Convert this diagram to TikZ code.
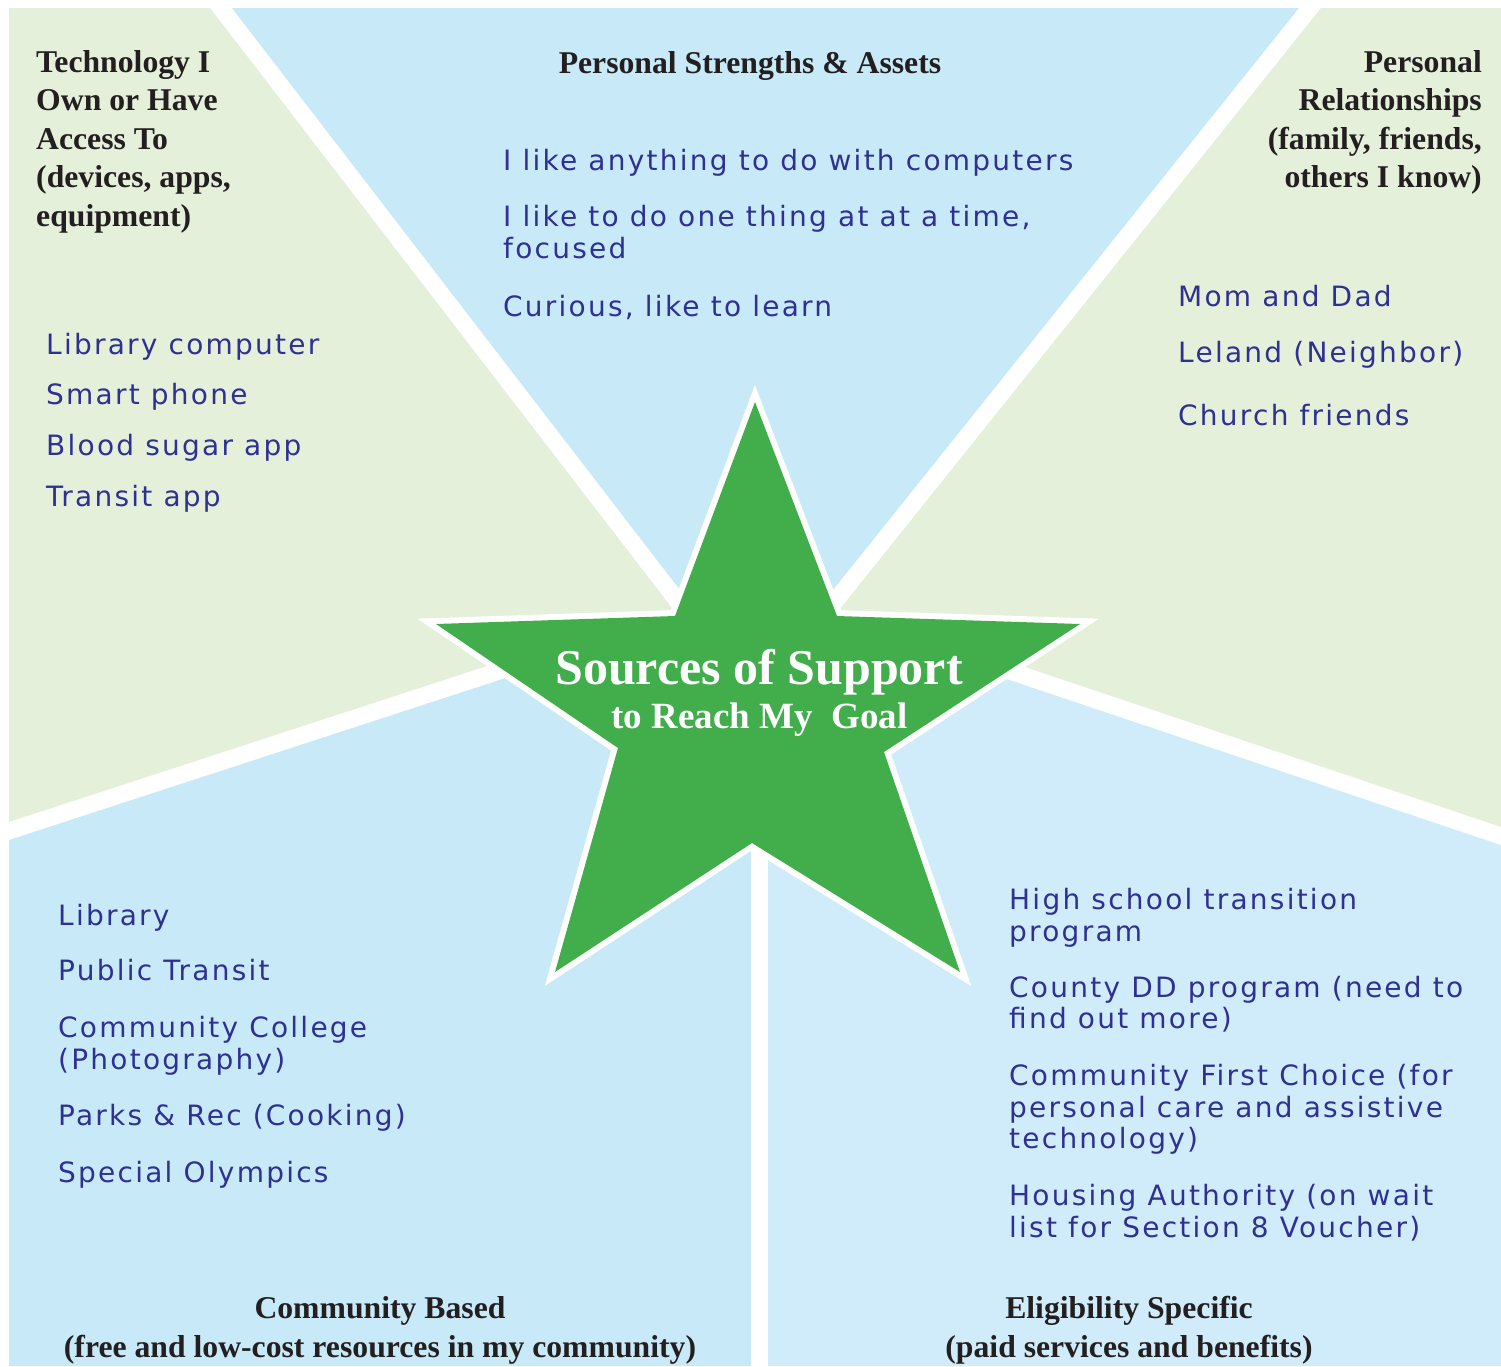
\documentclass[tikz,border=0pt]{standalone}
\usepackage{fontspec}
\setmainfont{Liberation Serif}
\newfontfamily\handfont[LetterSpace=8]{DejaVu Sans}
\usepackage[HTML]{xcolor}
\usetikzlibrary{positioning}

\definecolor{techgreen}{HTML}{E5F0DB}
\definecolor{skyblue}{HTML}{C8EAF8}
\definecolor{paleblue}{HTML}{D0ECFA}
\definecolor{stargreen}{HTML}{41AD4B}
\definecolor{inkblue}{HTML}{2E3192}
\definecolor{headtext}{HTML}{231F20}

\begin{document}
\begin{tikzpicture}[x=1pt, y=-1pt,
    heading/.style={font=\fontsize{31.7}{38.5}\selectfont\bfseries, text=headtext, inner sep=0pt},
    hand/.style={font=\handfont\fontsize{28}{31.5}\selectfont, text=inkblue, inner sep=0pt, align=left, anchor=base west},
    band/.style={white, line width=17pt},
    startext/.style={text=white, inner sep=0pt, anchor=base}]

\useasboundingbox (0,0) rectangle (1501,1366);

% --- Band end points (outer edge and hidden under the star) ---
\coordinate (A1) at (205.6,-12);  % upper-left band, top
\coordinate (A2) at (1326,-12);   % upper-right band, top
\coordinate (A3) at (-11,837.5);  % left band, left edge
\coordinate (A4) at (1521,842.7); % right band, right edge
\coordinate (A5) at (759.5,1390); % vertical band, bottom

\coordinate (B1) at (696,625);
\coordinate (B2) at (816,625);
\coordinate (B3) at (530,661);
\coordinate (B4) at (980,661);
\coordinate (B5) at (759.5,700);

% --- Regions ---
\fill[skyblue] (9,8) rectangle (1501,1366);
\fill[techgreen] (9,8) -- (221,8) -- (B1) -- (B3) -- (9,831) -- cycle;
\fill[techgreen] (1310,8) -- (1501,8) -- (1501,836) -- (B4) -- (B2) -- cycle;
\fill[paleblue] (759.5,1366) -- (1501,1366) -- (1501,836) -- (B4) -- (B5) -- cycle;

% --- White bands between the regions ---
\draw[band] (A1) -- (B1);
\draw[band] (A2) -- (B2);
\draw[band] (A3) -- (B3);
\draw[band] (A4) -- (B4);
\draw[band] (A5) -- (759.5,760);

% --- Star ---
\coordinate (ST) at (755,402);   % top tip
\coordinate (SUR) at (837,616);  % upper-right inner
\coordinate (SR) at (1080,624);  % right tip
\coordinate (SLR) at (884,752);  % lower-right inner
\coordinate (SBR) at (960,972);  % bottom-right tip
\coordinate (SB) at (752,843);   % bottom inner
\coordinate (SBL) at (555,972);  % bottom-left tip
\coordinate (SLL) at (618,748);  % lower-left inner
\coordinate (SL) at (436,624);   % left tip
\coordinate (SUL) at (675,616);  % upper-left inner

\draw[white, line width=12pt, line join=miter, miter limit=10]
    (ST) -- (SUR) -- (SR) -- (SLR) -- (SBR) -- (SB) -- (SBL) -- (SLL) -- (SL) -- (SUL) -- cycle;
\fill[stargreen]
    (ST) -- (SUR) -- (SR) -- (SLR) -- (SBR) -- (SB) -- (SBL) -- (SLL) -- (SL) -- (SUL) -- cycle;

\node[startext, font=\fontsize{50}{50}\selectfont\bfseries] (title) at (759,684) {Sources of Support};
\node[startext, font=\fontsize{37}{37}\selectfont\bfseries] (subtitle) at (759.5,728) {to Reach My\ \ Goal};

% --- Headings (base = last line) ---
\node[heading, align=left, anchor=base west] (tech) at (36,226)
    {Technology I\\Own or Have\\Access To\\(devices, apps,\\equipment)};
\node[heading, anchor=base] (strengths) at (750,73) {Personal Strengths \& Assets};
\node[heading, align=right, anchor=base east] (relations) at (1482,187.5)
    {Personal\\Relationships\\(family, friends,\\others I know)};
\node[heading, align=center, anchor=base] (community) at (380,1357)
    {Community Based\\(free and low-cost resources in my community)};
\node[heading, align=center, anchor=base] (eligibility) at (1129,1357)
    {Eligibility Specific\\(paid services and benefits)};

% --- Handwritten entries (base = last line) ---
\node[hand] (strengthlist) at (503,316)
    {I like anything to do with computers\\[24.5pt]I like to do one thing at at a time,\\focused\\[26.5pt]Curious, like to learn};
\node[hand] (techlist) at (46,506)
    {Library computer\\[18.5pt]Smart phone\\[19.5pt]Blood sugar app\\[19.5pt]Transit app};
\node[hand] (relationlist) at (1178,425)
    {Mom and Dad\\[24.5pt]Leland (Neighbor)\\[31.5pt]Church friends};
\node[hand] (communitylist) at (58,1182)
    {Library\\[23.5pt]Public Transit\\[25.5pt]Community College\\(Photography)\\[24.5pt]Parks \& Rec (Cooking)\\[25.5pt]Special Olympics};
\node[hand] (eligibilitylist) at (1009,1237)
    {High school transition\\program\\[24.5pt]County DD program (need to\\find out more)\\[25.5pt]Community First Choice (for\\personal care and assistive\\technology)\\[25.5pt]Housing Authority (on wait\\list for Section 8 Voucher)};

\end{tikzpicture}
\end{document}
